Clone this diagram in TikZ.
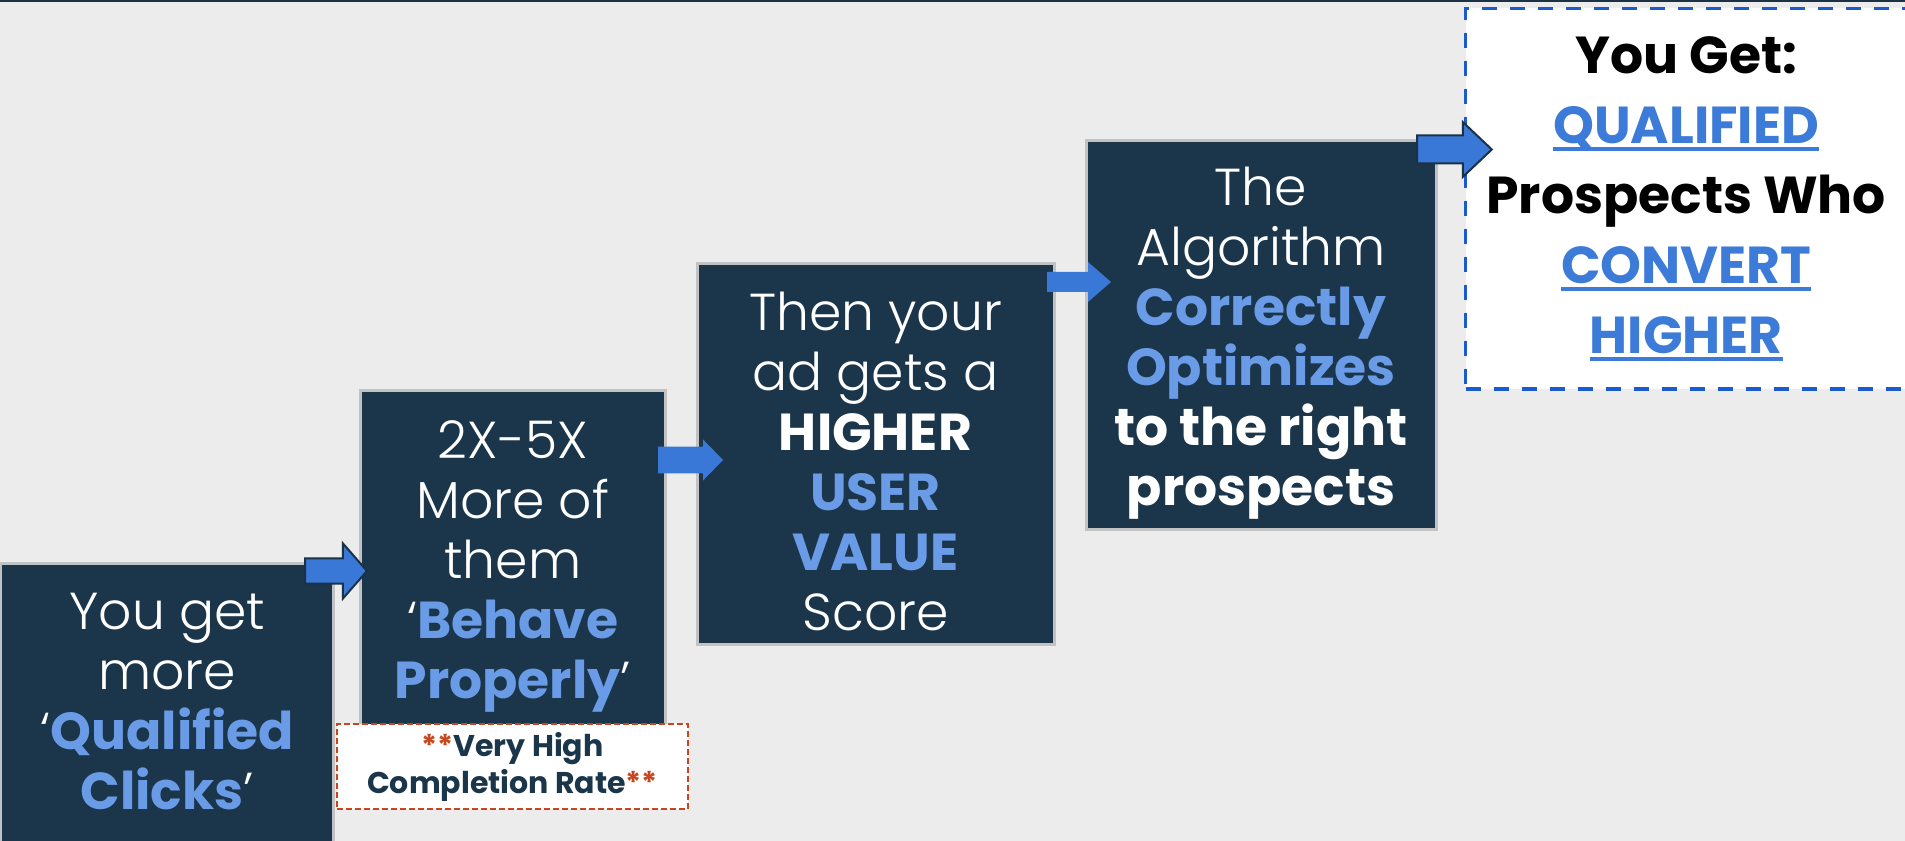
\documentclass[tikz,border=0pt]{standalone}
\usepackage{fontspec}
\setmainfont{Poppins}[UprightFont=* Light, BoldFont=* Bold]
\usepackage{xcolor}
\usetikzlibrary{calc}

\definecolor{navy}{HTML}{1B364B}
\definecolor{barnavy}{HTML}{1B3246}
\definecolor{skyblue}{HTML}{6A9BE6}
\definecolor{linkblue}{HTML}{3D7BD8}
\definecolor{arrowblue}{HTML}{3A78D8}
\definecolor{dashblue}{HTML}{1C5ACF}
\definecolor{rust}{HTML}{C8461E}
\definecolor{bggray}{HTML}{ECECEC}
\definecolor{edgegray}{HTML}{C2C2C2}

\newsavebox{\wordbox}
\newcommand{\hl}[1]{\textcolor{skyblue}{\textbf{#1}}}
\newcommand{\linkword}[1]{{\color{linkblue}\sbox{\wordbox}{#1}%
    \rlap{\rule[-5.6pt]{\wd\wordbox}{3.2pt}}\usebox{\wordbox}}}
\newcommand{\stars}{\textcolor{rust}{**}}
\newcommand{\padtop}{\rule{0pt}{41pt}}

\begin{document}
\begin{tikzpicture}[x=0.75pt, y=-0.75pt,
        stepbox/.style={rectangle, draw=edgegray, line width=2.25pt, fill=navy,
        text=white, align=center, inner sep=0pt,
        font=\fontsize{39}{45}\selectfont},
        goalbox/.style={rectangle, draw=dashblue, line width=2.6pt,
        dash pattern=on 11.25pt off 9.75pt, fill=white, align=center,
        inner sep=0pt, font=\fontsize{39}{52.5}\selectfont\bfseries},
        notebox/.style={rectangle, draw=rust, line width=1.5pt,
        dash pattern=on 4.5pt off 2.25pt, fill=white, align=center,
        inner sep=0pt, text=navy, font=\fontsize{22.5}{27.75}\selectfont\bfseries},
        fatarrow/.style n args={3}{to path={let \p1=(\tikztostart), \p2=(\tikztotarget) in
            (\x1,\y1+#1) -- (\x2-#3,\y1+#1) -- (\x2-#3,\y1+#2) -- (\x2,\y2)
            -- (\x2-#3,\y1-#2) -- (\x2-#3,\y1-#1) -- (\x1,\y1-#1) -- cycle}},
    ]

    \useasboundingbox (0,0) rectangle (1905,841);
    \clip (0,0) rectangle (1905,841);
    \fill[bggray] (0,0) rectangle (1905,841);
    \fill[barnavy] (0,0) rectangle (1905,2.5);

    %% Schritt 1
    \node[stepbox, minimum width=249.4pt, minimum height=237.4pt, text depth=30pt]
        (b1) at (167.25,721.75) {You get\\more\\‘\hl{Qualified}\\\hl{Clicks}’};

    %% Schritt 2 + Hinweis
    \node[stepbox, minimum width=228.4pt, minimum height=252.75pt]
        (b2) at (512.75,558.5) {\padtop 2X-5X\\More of\\them\\‘\hl{Behave}\\\hl{Properly}’};
    \node[notebox, minimum width=263.25pt, minimum height=63.75pt]
        (note) at (512.5,766.5) {\stars Very High\\Completion Rate\stars};

    %% Schritt 3
    \node[stepbox, minimum width=267.75pt, minimum height=285.4pt]
        (b3) at (875.5,453.75) {\padtop Then your\\ad gets a\\\textbf{HIGHER}\\\hl{USER}\\\hl{VALUE}\\Score};

    %% Schritt 4
    \node[stepbox, minimum width=262.5pt, minimum height=291.4pt]
        (b4) at (1261,335.25) {\padtop The\\Algorithm\\\hl{Correctly}\\\hl{Optimizes}\\\textbf{to the right}\\\textbf{prospects}};

    %% Ergebnis
    \node[goalbox, minimum width=331.1pt, minimum height=285.4pt]
        (goal) at (1686.25,198.75) {You Get:\\\linkword{QUALIFIED}\\Prospects Who\\\linkword{CONVERT}\\\linkword{HIGHER}};

    %% Pfeile
    \coordinate (a1) at ($(b1.north east)+(-30,9)$);
    \coordinate (a2) at ($(b2.north east)+(-8.5,71.5)$);
    \coordinate (a3) at ($(b3.north east)+(-8.5,20)$);
    \coordinate (a4) at ($(b4.north east)+(-20.5,10)$);
    \draw[fill=arrowblue, draw=barnavy, line width=1.5pt, fatarrow={9.4pt}{20.6pt}{18pt}]
        (a1) to ($(a1 -| b2.west)+(8,0)$);
    \fill[arrowblue, fatarrow={10pt}{15.4pt}{15pt}]
        (a2) to ($(a2 -| b3.west)+(27.5,0)$);
    \fill[arrowblue, fatarrow={7.5pt}{15pt}{17.25pt}]
        (a3) to ($(a3 -| b4.west)+(26.5,0)$);
    \draw[fill=arrowblue, draw=barnavy, line width=1.5pt, fatarrow={10.5pt}{20.6pt}{21.75pt}]
        (a4) to ($(a4 -| goal.west)+(28,0)$);

\end{tikzpicture}
\end{document}
